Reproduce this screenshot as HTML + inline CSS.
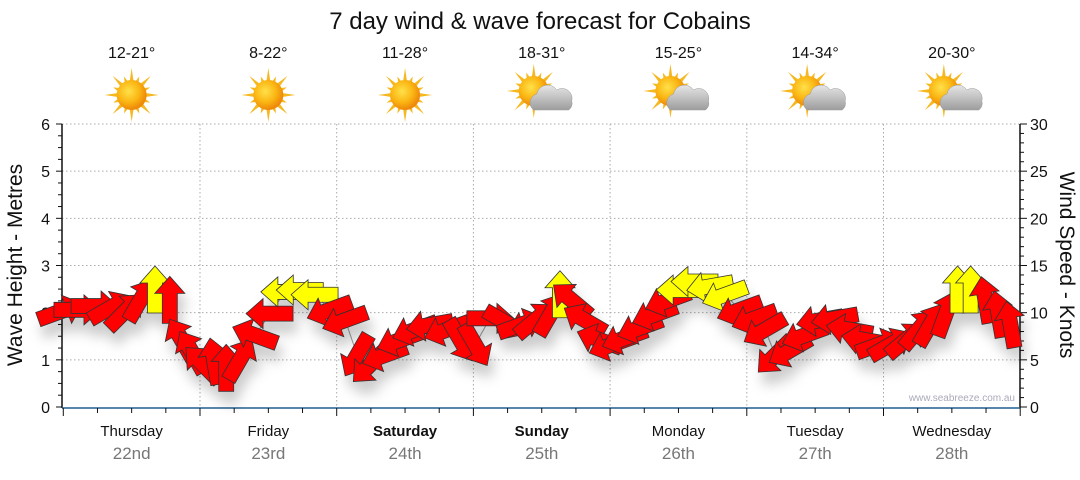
<!DOCTYPE html>
<html><head><meta charset="utf-8"><style>
body{margin:0;background:#fff;width:1080px;height:475px;overflow:hidden;font-family:"Liberation Sans","DejaVu Sans",sans-serif}
</style></head><body>
<svg id="chart" width="1080" height="475" xmlns="http://www.w3.org/2000/svg">
<defs>
<radialGradient id="sunG" cx="40%" cy="38%" r="60%"><stop offset="0" stop-color="#ffe14a"/><stop offset="0.6" stop-color="#fbb613"/><stop offset="1" stop-color="#ee8a0a"/></radialGradient>
<linearGradient id="cloudG" x1="0" y1="0" x2="0" y2="1"><stop offset="0" stop-color="#e6e6e6"/><stop offset="1" stop-color="#9d9d9d"/></linearGradient>
<filter id="shadow" x="-50%" y="-50%" width="200%" height="200%"><feDropShadow dx="4" dy="12" stdDeviation="6" flood-color="#000" flood-opacity="0.2"/></filter>
</defs>
<text x="540" y="29" text-anchor="middle" font-size="24" fill="#111">7 day wind &amp; wave forecast for Cobains</text>
<g id="grid"></g><g id="axes"></g><g id="topicons"></g>
<text transform="translate(22,265) rotate(-90)" text-anchor="middle" font-size="21" fill="#111">Wave Height - Metres</text>
<text transform="translate(1060,265) rotate(90)" text-anchor="middle" font-size="21" fill="#111">Wind Speed - Knots</text>
<text x="1015" y="401" text-anchor="end" font-size="10" fill="#aab">www.seabreeze.com.au</text>
<g id="series"></g>
</svg>
<script>
const days=["Thursday","Friday","Saturday","Sunday","Monday","Tuesday","Wednesday"];
const dates=["22nd","23rd","24th","25th","26th","27th","28th"];
const boldDays=[false,false,true,true,false,false,false];
const temps=["12-21°","8-22°","11-28°","18-31°","15-25°","14-34°","20-30°"];
const cloudy=[false,false,false,true,true,true,true];
const waveTicks=[0,1,2,3,4,5,6];
const windTicks=[0,5,10,15,20,25,30];
const hours=[-0.6,2.4,5.4,8.2,10.8,13.5,16.1,18.7,20.8,22.6,24.5,26.5,28.6,31.0,33.7,36.3,38.9,41.6,44.2,46.8,49.5,51.6,53.9,56.5,59.1,61.8,64.4,67.4,69.7,72.3,74.9,77.6,80.2,82.8,85.5,87.2,89.3,91.6,94.2,96.3,98.6,101.3,103.9,106.2,108.3,110.9,113.6,116.2,118.8,121.4,123.2,125.0,127.6,130.2,132.9,135.5,138.1,140.8,143.1,145.2,147.9,150.1,152.2,154.9,157.0,159.3,161.9,164.2,166.3];
const windKnots=[10.1,10.3,10.7,10.5,10.1,11.3,12.4,11.3,7.1,5.8,4.5,4.8,4.1,5.0,7.6,9.9,12.2,12.4,11.9,10.3,9.2,5.5,4.5,5.5,7.1,8.2,8.7,8.2,7.1,6.6,9.4,9.0,8.7,9.2,9.8,11.9,11.3,9.2,7.1,6.6,7.3,8.4,9.8,11.3,12.4,13.3,12.8,11.9,10.3,9.4,8.2,5.5,6.0,7.6,9.2,9.4,8.2,7.1,6.6,6.6,7.1,8.2,8.7,9.8,12.4,12.4,11.3,9.8,8.7];
const windDir=[20,0,0,30,45,60,90,90,120,120,135,100,90,60,160,180,180,180,180,200,200,240,225,200,200,200,190,200,300,300,0,330,20,40,60,90,140,150,160,200,200,200,200,200,180,180,190,200,200,200,210,225,210,200,190,190,170,170,20,30,40,50,60,70,90,90,100,100,100];
const gust=[0,0,0,0,0,0,1,0,0,0,0,0,0,0,0,0,1,1,1,0,0,0,0,0,0,0,0,0,0,0,0,0,0,0,0,1,0,0,0,0,0,0,0,0,1,1,1,1,0,0,0,0,0,0,0,0,0,0,0,0,0,0,0,0,1,1,0,0,0];

const NS="http://www.w3.org/2000/svg";
const X0=63.3,DW=136.7,YB=407,YT=124;
const xS=h=>X0+h/24*DW;
const yW=m=>YB-(m/6)*(YB-YT);
const yK=k=>YB-(k/30)*(YB-YT);
function mk(t,a,p){const e=document.createElementNS(NS,t);for(const k in a)e.setAttribute(k,a[k]);(p||document.getElementById('chart')).appendChild(e);return e;}
const gridG=document.getElementById('grid'),axesG=document.getElementById('axes'),topG=document.getElementById('topicons'),ser=document.getElementById('series');
waveTicks.forEach(v=>{if(v>0){const l=mk('line',{x1:62,x2:1020,y1:yW(v),y2:yW(v),stroke:'#aaa','stroke-dasharray':'1.5,2.5'},gridG);

}});
for(let i=1;i<7;i++){const l=mk('line',{x1:X0+i*DW,x2:X0+i*DW,y1:YT,y2:YB,stroke:'#aaa','stroke-dasharray':'1.5,2.5'},gridG);

}
mk('line',{x1:62,x2:62,y1:YT,y2:YB+1,stroke:'#111','stroke-width':1.5},axesG);
waveTicks.forEach(v=>{mk('line',{x1:56,x2:62,y1:yW(v),y2:yW(v),stroke:'#111'},axesG);
const t=mk('text',{x:50,y:yW(v)+6,'text-anchor':'end','font-size':16,fill:'#111'},axesG);t.textContent=v;

});
for(let m=0;m<6;m+=0.25){if(m%1)mk('line',{x1:58,x2:62,y1:yW(m),y2:yW(m),stroke:'#111'},axesG);}
mk('line',{x1:1020,x2:1020,y1:YT,y2:YB+1,stroke:'#111','stroke-width':1.5},axesG);
windTicks.forEach(v=>{mk('line',{x1:1020,x2:1027,y1:yK(v),y2:yK(v),stroke:'#111'},axesG);
const t=mk('text',{x:1030,y:yK(v)+6,'font-size':16,fill:'#111'},axesG);t.textContent=v;

});
for(let k=0;k<30;k++){if(k%5)mk('line',{x1:1020,x2:1024,y1:yK(k),y2:yK(k),stroke:'#111'},axesG);}
mk('line',{x1:62,x2:1020,y1:408,y2:408,stroke:'#1f5f8f','stroke-width':1.5},axesG);
for(let h=0;h<=168;h+=6){const x=xS(h);mk('line',{x1:x,x2:x,y1:408,y2:h%24?413:416,stroke:'#111'},axesG);}
days.forEach((d,i)=>{const cx=X0+DW*(i+0.5);
const t=mk('text',{x:cx,y:436,'text-anchor':'middle','font-size':15,fill:'#111','font-weight':boldDays[i]?'bold':'normal'},axesG);t.textContent=d;


const t2=mk('text',{x:cx,y:459,'text-anchor':'middle','font-size':17,fill:'#777'},axesG);t2.textContent=dates[i];


const t3=mk('text',{x:cx,y:58,'text-anchor':'middle','font-size':16,fill:'#111'},topG);t3.textContent=temps[i];


const g=mk('g',{transform:`translate(${cx},95)`},topG);


const sx=cloudy[i]?-8:0,sy=cloudy[i]?-4:0;
for(let a=0;a<16;a++){const ang=a*Math.PI/8,L=a%2?20:27,w=0.16;
mk('polygon',{points:`${sx+Math.cos(ang-w)*13},${sy+Math.sin(ang-w)*13} ${sx+Math.cos(ang)*L},${sy+Math.sin(ang)*L} ${sx+Math.cos(ang+w)*13},${sy+Math.sin(ang+w)*13}`,fill:'#f5b820'},g);}
mk('circle',{cx:sx,cy:sy,r:15,fill:'url(#sunG)'},g);
if(cloudy[i]){mk('path',{d:'M-8,15 a9,9 0 0 1 3,-16 a11,11 0 0 1 20,-4 a10,10 0 0 1 15,11 a8,8 0 0 1 -3,9 z',fill:'url(#cloudG)',stroke:'#999','stroke-width':0.5},g);}
});
const pts=hours.map((h,i)=>`${xS(h)},${yK(windKnots[i])}`).join(' ');
const pl=mk('polyline',{points:pts,fill:'none',stroke:'#999','stroke-width':1},ser);


const ag=mk('g',{filter:'url(#shadow)'},ser);
hours.forEach((h,i)=>{const x=xS(h),y=yK(windKnots[i]);
const p=mk('polygon',{points:'-23,-7.5 7,-7.5 7,-15 24,0 7,15 7,7.5 -23,7.5',transform:`translate(${x},${y}) rotate(${-windDir[i]})`,fill:gust[i]?'#ffff00':'#ff0000',stroke:'#333','stroke-width':0.8},ag);

});
</script>
</body></html>
